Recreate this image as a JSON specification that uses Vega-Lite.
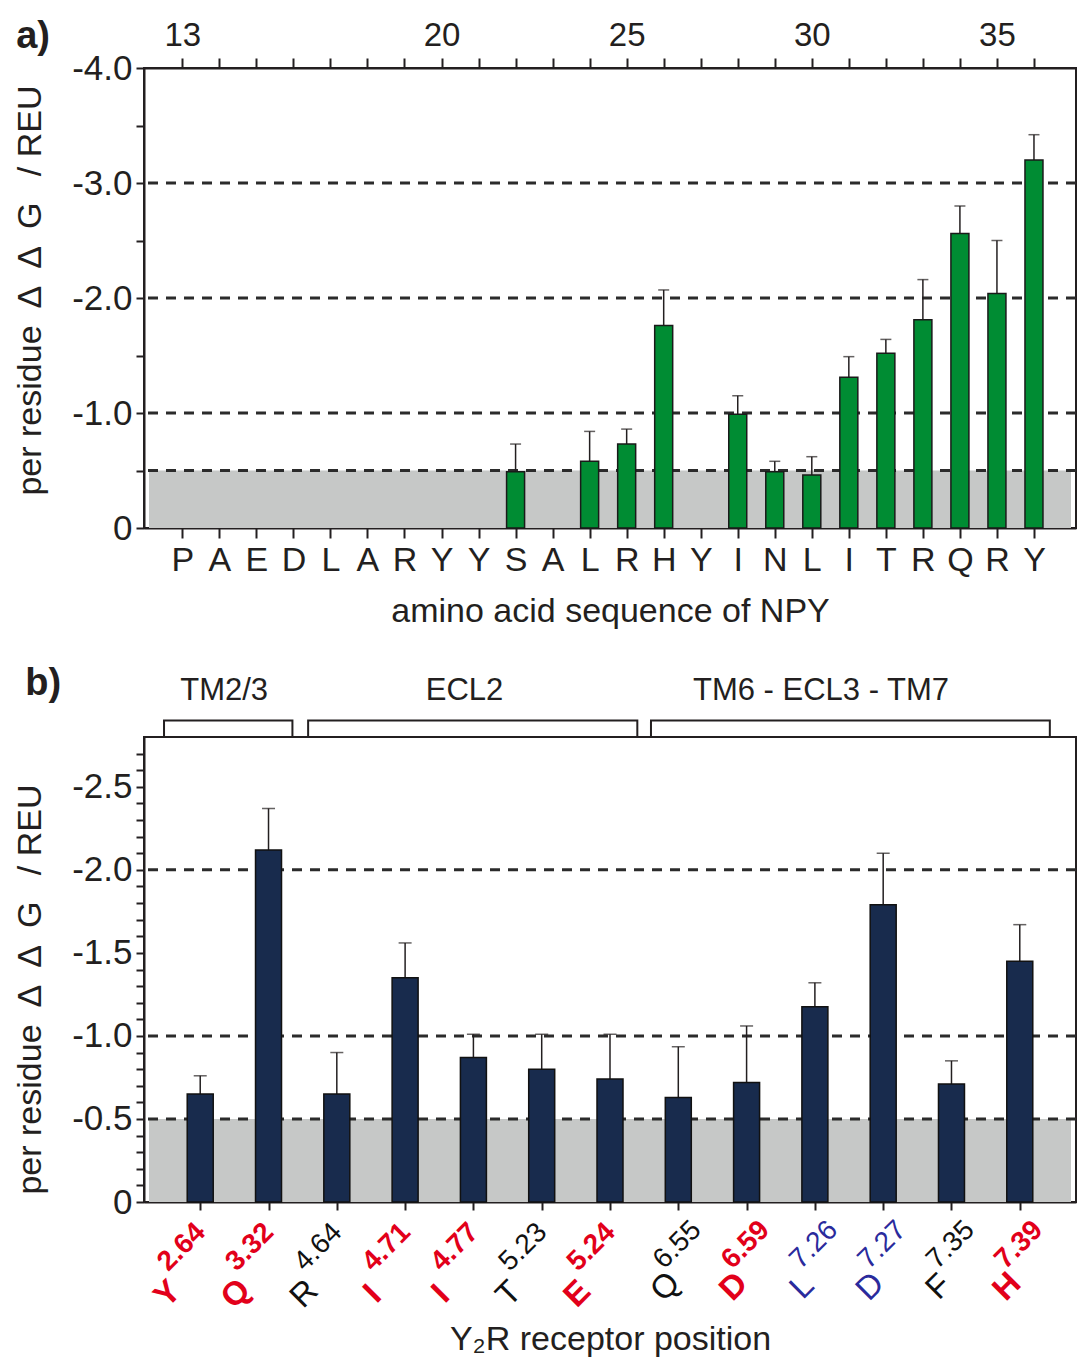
{
  "$schema": "https://vega.github.io/schema/vega-lite/v6.json",
  "padding": {"left": 12, "top": 16, "right": 0, "bottom": 0},
  "spacing": 34,
  "datasets": {
    "npy": [
      {"pos": 13, "aa": "P", "val": null, "err": null},
      {"pos": 14, "aa": "A", "val": null, "err": null},
      {"pos": 15, "aa": "E", "val": null, "err": null},
      {"pos": 16, "aa": "D", "val": null, "err": null},
      {"pos": 17, "aa": "L", "val": null, "err": null},
      {"pos": 18, "aa": "A", "val": null, "err": null},
      {"pos": 19, "aa": "R", "val": null, "err": null},
      {"pos": 20, "aa": "Y", "val": null, "err": null},
      {"pos": 21, "aa": "Y", "val": null, "err": null},
      {"pos": 22, "aa": "S", "val": -0.49, "err": -0.73},
      {"pos": 23, "aa": "A", "val": null, "err": null},
      {"pos": 24, "aa": "L", "val": -0.58, "err": -0.84},
      {"pos": 25, "aa": "R", "val": -0.73, "err": -0.86},
      {"pos": 26, "aa": "H", "val": -1.76, "err": -2.07},
      {"pos": 27, "aa": "Y", "val": null, "err": null},
      {"pos": 28, "aa": "I", "val": -0.99, "err": -1.15},
      {"pos": 29, "aa": "N", "val": -0.49, "err": -0.58},
      {"pos": 30, "aa": "L", "val": -0.46, "err": -0.62},
      {"pos": 31, "aa": "I", "val": -1.31, "err": -1.49},
      {"pos": 32, "aa": "T", "val": -1.52, "err": -1.64},
      {"pos": 33, "aa": "R", "val": -1.81, "err": -2.16},
      {"pos": 34, "aa": "Q", "val": -2.56, "err": -2.8},
      {"pos": 35, "aa": "R", "val": -2.04, "err": -2.5},
      {"pos": 36, "aa": "Y", "val": -3.2, "err": -3.42}
    ],
    "y2r": [
      {"pos": 1, "aa": "Y", "bw": "2.64", "cls": "red", "val": -0.65, "err": -0.76},
      {"pos": 2, "aa": "Q", "bw": "3.32", "cls": "red", "val": -2.12, "err": -2.37},
      {"pos": 3, "aa": "R", "bw": "4.64", "cls": "black", "val": -0.65, "err": -0.9},
      {"pos": 4, "aa": "I", "bw": "4.71", "cls": "red", "val": -1.35, "err": -1.56},
      {"pos": 5, "aa": "I", "bw": "4.77", "cls": "red", "val": -0.87, "err": -1.01},
      {"pos": 6, "aa": "T", "bw": "5.23", "cls": "black", "val": -0.8, "err": -1.01},
      {"pos": 7, "aa": "E", "bw": "5.24", "cls": "red", "val": -0.74, "err": -1.01},
      {"pos": 8, "aa": "Q", "bw": "6.55", "cls": "black", "val": -0.63, "err": -0.935},
      {"pos": 9, "aa": "D", "bw": "6.59", "cls": "red", "val": -0.72, "err": -1.06},
      {"pos": 10, "aa": "L", "bw": "7.26", "cls": "blue", "val": -1.175, "err": -1.32},
      {"pos": 11, "aa": "D", "bw": "7.27", "cls": "blue", "val": -1.79, "err": -2.1},
      {"pos": 12, "aa": "F", "bw": "7.35", "cls": "black", "val": -0.71, "err": -0.85},
      {"pos": 13, "aa": "H", "bw": "7.39", "cls": "red", "val": -1.45, "err": -1.67}
    ],
    "regions": [
      {"region": "TM2/3", "x0": 0.47, "x1": 2.35, "xc": 1.35},
      {"region": "ECL2", "x0": 2.58, "x1": 7.4, "xc": 4.87},
      {"region": "TM6 - ECL3 - TM7", "x0": 7.6, "x1": 13.44, "xc": 10.09}
    ]
  },
  "vconcat": [
    {
      "width": 932,
      "height": 460,
      "layer": [
        {
          "data": {"values": [{"x0": 12.1, "x1": 37, "y0": 0, "y1": -0.5}]},
          "mark": {"type": "rect", "color": "#c6c8c7"},
          "encoding": {
            "x": {"field": "x0", "type": "quantitative", "scale": {"domain": [12.1, 37], "nice": false, "zero": false},
              "axis": {"orient": "bottom", "values": [13,14,15,16,17,18,19,20,21,22,23,24,25,26,27,28,29,30,31,32,33,34,35,36],
                "labelExpr": "substring('PAEDLARYYSALRHYINLITRQRY', datum.value - 13, datum.value - 12)",
                "title": "amino acid sequence of NPY", "labelFontSize": 34, "tickSize": 10, "labelPadding": 5,
                "titleFontSize": 34, "titlePadding": 17, "labelFlush": false, "labelOverlap": false}},
            "x2": {"field": "x1"},
            "y": {"field": "y0", "type": "quantitative", "scale": {"domain": [0, -4], "nice": false, "zero": false},
              "axis": {"values": [-4, -3.5, -3, -2.5, -2, -1.5, -1, -0.5, 0],
                "labelExpr": "datum.value == 0 ? '0' : (datum.value % 1 == 0 ? '-' + format(abs(datum.value), '.1f') : '')",
                "title": "per residue\u2002Δ\u2002Δ\u2002G\u2002 / REU", "labelFontSize": 35, "tickSize": 8, "labelPadding": 4,
                "titleFontSize": 34, "titlePadding": 24, "titleY": 222, "labelFlush": false, "labelOverlap": false}},
            "y2": {"field": "y1"}
          }
        },
        {
          "data": {"values": [{"y": -0.5}, {"y": -1}, {"y": -2}, {"y": -3}]},
          "mark": {"type": "rule", "strokeDash": [10, 8], "strokeWidth": 3, "color": "#2b2b2b"},
          "encoding": {"y": {"field": "y", "type": "quantitative", "axis": null}}
        },
        {
          "data": {"name": "npy"},
          "transform": [{"filter": "datum.val != null"}],
          "mark": {"type": "rule", "color": "#231f20", "strokeWidth": 1.5},
          "encoding": {
            "x": {"field": "pos", "type": "quantitative", "axis": null},
            "y": {"field": "val", "type": "quantitative", "axis": null},
            "y2": {"field": "err"}
          }
        },
        {
          "data": {"name": "npy"},
          "transform": [{"filter": "datum.val != null"}],
          "mark": {"type": "tick", "orient": "horizontal", "size": 11, "thickness": 1.5, "color": "#231f20"},
          "encoding": {
            "x": {"field": "pos", "type": "quantitative", "axis": null},
            "y": {"field": "err", "type": "quantitative", "axis": null}
          }
        },
        {
          "data": {"name": "npy"},
          "transform": [{"filter": "datum.val != null"}],
          "mark": {"type": "bar", "orient": "vertical", "size": 18, "fill": "#008c33", "stroke": "#1a1a1a", "strokeWidth": 1.5},
          "encoding": {
            "x": {"field": "pos", "type": "quantitative",
              "axis": {"orient": "top", "values": [13,14,15,16,17,18,19,20,21,22,23,24,25,26,27,28,29,30,31,32,33,34,35,36],
                "labelExpr": "indexof([13, 20, 25, 30, 35], datum.value) >= 0 ? '' + datum.value : ''",
                "title": null, "labelFontSize": 33, "tickSize": 10, "labelPadding": 6, "labelFlush": false, "labelOverlap": false}},
            "y": {"field": "val", "type": "quantitative", "stack": null, "axis": null},
            "y2": {"datum": 0}
          }
        },
        {
          "data": {"values": [{"t": "a)", "x": 8.97, "y": -4.27}]},
          "mark": {"type": "text", "fontSize": 38, "fontWeight": "bold", "baseline": "middle", "align": "center", "clip": false, "color": "#231f20"},
          "encoding": {
            "x": {"field": "x", "type": "quantitative", "axis": null},
            "y": {"field": "y", "type": "quantitative", "axis": null},
            "text": {"field": "t"}
          }
        }
      ],
      "resolve": {"axis": {"x": "independent", "y": "independent"}}
    },
    {
      "width": 932,
      "height": 465,
      "layer": [
        {
          "data": {"values": [{"x0": 0.25, "x1": 13.75, "y0": 0, "y1": -0.5}]},
          "mark": {"type": "rect", "color": "#c6c8c7"},
          "encoding": {
            "x": {"field": "x0", "type": "quantitative", "scale": {"domain": [0.25, 13.75], "nice": false, "zero": false},
              "axis": {"orient": "bottom", "values": [1,2,3,4,5,6,7,8,9,10,11,12,13], "labels": false, "tickSize": 8,
                "title": "Y₂R receptor position", "titleFontSize": 34, "titlePadding": 111}},
            "x2": {"field": "x1"},
            "y": {"field": "y0", "type": "quantitative", "scale": {"domain": [0, -2.8], "nice": false, "zero": false},
              "axis": {"values": [-2.7,-2.6,-2.5,-2.4,-2.3,-2.2,-2.1,-2,-1.9,-1.8,-1.7,-1.6,-1.5,-1.4,-1.3,-1.2,-1.1,-1,-0.9,-0.8,-0.7,-0.6,-0.5,-0.4,-0.3,-0.2,-0.1,0],
                "labelExpr": "datum.value == 0 ? '0' : (abs(datum.value * 2 - round(datum.value * 2)) < 0.001 ? '-' + format(abs(datum.value), '.1f') : '')",
                "title": "per residue\u2002Δ\u2002Δ\u2002G\u2002 / REU", "labelFontSize": 35, "tickSize": 8, "labelPadding": 4,
                "titleFontSize": 34, "titlePadding": 24, "titleY": 252, "labelFlush": false, "labelOverlap": false}},
            "y2": {"field": "y1"}
          }
        },
        {
          "data": {"values": [{"y": -0.5}, {"y": -1}, {"y": -2}]},
          "mark": {"type": "rule", "strokeDash": [10, 8], "strokeWidth": 3, "color": "#2b2b2b"},
          "encoding": {"y": {"field": "y", "type": "quantitative", "axis": null}}
        },
        {
          "data": {"name": "y2r"},
          "mark": {"type": "rule", "color": "#231f20", "strokeWidth": 1.5},
          "encoding": {
            "x": {"field": "pos", "type": "quantitative", "axis": null},
            "y": {"field": "val", "type": "quantitative", "axis": null},
            "y2": {"field": "err"}
          }
        },
        {
          "data": {"name": "y2r"},
          "mark": {"type": "tick", "orient": "horizontal", "size": 13, "thickness": 1.5, "color": "#231f20"},
          "encoding": {
            "x": {"field": "pos", "type": "quantitative", "axis": null},
            "y": {"field": "err", "type": "quantitative", "axis": null}
          }
        },
        {
          "data": {"name": "y2r"},
          "mark": {"type": "bar", "orient": "vertical", "size": 26, "fill": "#182b4d", "stroke": "#111111", "strokeWidth": 1.5},
          "encoding": {
            "x": {"field": "pos", "type": "quantitative", "axis": null},
            "y": {"field": "val", "type": "quantitative", "stack": null, "axis": null},
            "y2": {"datum": 0}
          }
        },
        {
          "data": {"name": "regions"},
          "mark": {"type": "rect", "fillOpacity": 0, "stroke": "#231f20", "strokeWidth": 2, "clip": false},
          "encoding": {
            "x": {"field": "x0", "type": "quantitative", "axis": null},
            "x2": {"field": "x1"},
            "y": {"datum": -2.8, "axis": null},
            "y2": {"datum": -2.9}
          }
        },
        {
          "data": {"name": "regions"},
          "mark": {"type": "text", "fontSize": 31, "baseline": "middle", "align": "center", "clip": false, "color": "#231f20"},
          "encoding": {
            "x": {"field": "xc", "type": "quantitative", "axis": null},
            "y": {"datum": -3.08, "axis": null},
            "text": {"field": "region"}
          }
        },
        {
          "data": {"values": [{"t": "b)", "x": -1.3, "y": -3.12}]},
          "mark": {"type": "text", "fontSize": 38, "fontWeight": "bold", "baseline": "middle", "align": "center", "clip": false, "color": "#231f20"},
          "encoding": {
            "x": {"field": "x", "type": "quantitative", "axis": null},
            "y": {"field": "y", "type": "quantitative", "axis": null},
            "text": {"field": "t"}
          }
        },
        {
          "data": {"name": "y2r"},
          "transform": [{"filter": "datum.pos <= 7 && datum.cls == 'red'"}],
          "mark": {"type": "text", "fontSize": 33, "fontWeight": "bold", "align": "center", "baseline": "middle", "angle": 315, "dx": -88, "dy": 42, "clip": false},
          "encoding": {
            "x": {"field": "pos", "type": "quantitative", "axis": null},
            "y": {"datum": 0, "axis": null},
            "text": {"field": "aa"},
            "color": {"field": "cls", "type": "nominal", "scale": {"domain": ["red", "black", "blue"], "range": ["#e2001a", "#111111", "#2a2a9c"]}, "legend": null}
          }
        },
        {
          "data": {"name": "y2r"},
          "transform": [{"filter": "datum.pos <= 7 && datum.cls != 'red'"}],
          "mark": {"type": "text", "fontSize": 33, "fontWeight": "normal", "align": "center", "baseline": "middle", "angle": 315, "dx": -88, "dy": 42, "clip": false},
          "encoding": {
            "x": {"field": "pos", "type": "quantitative", "axis": null},
            "y": {"datum": 0, "axis": null},
            "text": {"field": "aa"},
            "color": {"field": "cls", "type": "nominal", "legend": null}
          }
        },
        {
          "data": {"name": "y2r"},
          "transform": [{"filter": "datum.pos > 7 && datum.cls == 'red'"}],
          "mark": {"type": "text", "fontSize": 33, "fontWeight": "bold", "align": "center", "baseline": "middle", "angle": 315, "dx": -69, "dy": 51, "clip": false},
          "encoding": {
            "x": {"field": "pos", "type": "quantitative", "axis": null},
            "y": {"datum": 0, "axis": null},
            "text": {"field": "aa"},
            "color": {"field": "cls", "type": "nominal", "legend": null}
          }
        },
        {
          "data": {"name": "y2r"},
          "transform": [{"filter": "datum.pos > 7 && datum.cls != 'red'"}],
          "mark": {"type": "text", "fontSize": 33, "fontWeight": "normal", "align": "center", "baseline": "middle", "angle": 315, "dx": -69, "dy": 51, "clip": false},
          "encoding": {
            "x": {"field": "pos", "type": "quantitative", "axis": null},
            "y": {"datum": 0, "axis": null},
            "text": {"field": "aa"},
            "color": {"field": "cls", "type": "nominal", "legend": null}
          }
        },
        {
          "data": {"name": "y2r"},
          "transform": [{"filter": "datum.pos <= 7 && datum.cls == 'red'"}],
          "mark": {"type": "text", "fontSize": 28, "fontWeight": "bold", "align": "center", "baseline": "middle", "angle": 315, "dx": -45, "dy": 19, "clip": false},
          "encoding": {
            "x": {"field": "pos", "type": "quantitative", "axis": null},
            "y": {"datum": 0, "axis": null},
            "text": {"field": "bw"},
            "color": {"field": "cls", "type": "nominal", "legend": null}
          }
        },
        {
          "data": {"name": "y2r"},
          "transform": [{"filter": "datum.pos <= 7 && datum.cls != 'red'"}],
          "mark": {"type": "text", "fontSize": 28, "fontWeight": "normal", "align": "center", "baseline": "middle", "angle": 315, "dx": -45, "dy": 19, "clip": false},
          "encoding": {
            "x": {"field": "pos", "type": "quantitative", "axis": null},
            "y": {"datum": 0, "axis": null},
            "text": {"field": "bw"},
            "color": {"field": "cls", "type": "nominal", "legend": null}
          }
        },
        {
          "data": {"name": "y2r"},
          "transform": [{"filter": "datum.pos > 7 && datum.cls == 'red'"}],
          "mark": {"type": "text", "fontSize": 28, "fontWeight": "bold", "align": "center", "baseline": "middle", "angle": 315, "dx": -31, "dy": 30, "clip": false},
          "encoding": {
            "x": {"field": "pos", "type": "quantitative", "axis": null},
            "y": {"datum": 0, "axis": null},
            "text": {"field": "bw"},
            "color": {"field": "cls", "type": "nominal", "legend": null}
          }
        },
        {
          "data": {"name": "y2r"},
          "transform": [{"filter": "datum.pos > 7 && datum.cls != 'red'"}],
          "mark": {"type": "text", "fontSize": 28, "fontWeight": "normal", "align": "center", "baseline": "middle", "angle": 315, "dx": -31, "dy": 30, "clip": false},
          "encoding": {
            "x": {"field": "pos", "type": "quantitative", "axis": null},
            "y": {"datum": 0, "axis": null},
            "text": {"field": "bw"},
            "color": {"field": "cls", "type": "nominal", "legend": null}
          }
        }
      ],
      "resolve": {"axis": {"x": "independent", "y": "independent"}}
    }
  ],
  "config": {
    "font": "Liberation Sans",
    "view": {"stroke": "#231f20", "strokeWidth": 2},
    "axis": {
      "grid": false,
      "domainColor": "#231f20",
      "domainWidth": 2,
      "tickColor": "#231f20",
      "tickWidth": 2,
      "labelColor": "#231f20",
      "titleColor": "#231f20",
      "labelFont": "Liberation Sans",
      "titleFont": "Liberation Sans",
      "titleFontWeight": "normal"
    },
    "text": {"font": "Liberation Sans"}
  }
}
